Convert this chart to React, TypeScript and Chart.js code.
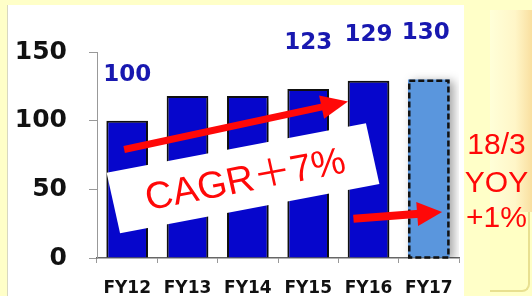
import React, { useEffect, useRef } from "react";
import { Chart, registerables } from "chart.js";

Chart.register(...registerables);

const categories = ["FY12", "FY13", "FY14", "FY15", "FY16", "FY17"];
const sales = [100, 118, 118, 123, 129, 130];
const valueLabels = ["100", "", "", "123", "129", "130"];
const yTickValues = [0, 50, 100, 150];
const cagrText = "CAGR＋7%";
const yoyLines = ["18/3", "YOY", "+1%"];

// annotation anchors in data units: [categoryIndex, value]
const cagrArrow = [[-0.05, 79], [3.66, 114]];
const yoyArrow = [[3.75, 28.5], [5.22, 33.5]];
const cagrBoxCenter = [1.92, 58];
const yoyTextValues = [81.5, 54, 28.5];

const BAR_BLUE = "#0606CC";
const LIGHT_BLUE = "#5A96DD";
const LABEL_BLUE = "#1818B0";
const RED = "#FF0808";

function drawArrow(ctx: CanvasRenderingContext2D, x1: number, y1: number, x2: number, y2: number, lw: number, headLen: number, headHalf: number) {
  const ang = Math.atan2(y2 - y1, x2 - x1);
  const bx = x2 - Math.cos(ang) * headLen;
  const by = y2 - Math.sin(ang) * headLen;
  ctx.save();
  ctx.strokeStyle = RED;
  ctx.fillStyle = RED;
  ctx.lineWidth = lw;
  ctx.lineCap = "butt";
  ctx.beginPath();
  ctx.moveTo(x1, y1);
  ctx.lineTo(bx + Math.cos(ang) * 2, by + Math.sin(ang) * 2);
  ctx.stroke();
  ctx.beginPath();
  ctx.moveTo(x2, y2);
  ctx.lineTo(bx + Math.sin(ang) * headHalf, by - Math.cos(ang) * headHalf);
  ctx.lineTo(bx - Math.sin(ang) * headHalf, by + Math.cos(ang) * headHalf);
  ctx.closePath();
  ctx.fill();
  ctx.restore();
}

const decoPlugin = {
  id: "deco",
  beforeDatasetsDraw(chart: any) {
    const ctx = chart.ctx;
    ctx.save();
    ctx.shadowColor = "rgba(0,0,0,0.35)";
    ctx.shadowBlur = 9;
    ctx.shadowOffsetX = 4;
    ctx.shadowOffsetY = 2;
  },
  afterDatasetsDraw(chart: any) {
    const ctx = chart.ctx;
    ctx.restore();
    // dashed border for last (forecast) bar
    const meta = chart.getDatasetMeta(0);
    const el = meta.data[meta.data.length - 1];
    const p = el.getProps(["x", "y", "base", "width"], true);
    ctx.save();
    ctx.strokeStyle = "#111";
    ctx.lineWidth = 2.5;
    ctx.setLineDash([6, 3]);
    ctx.strokeRect(p.x - p.width / 2 + 1.25, p.y + 1.25, p.width - 2.5, p.base - p.y - 1.25);
    ctx.restore();
  },
  afterDraw(chart: any) {
    const ctx = chart.ctx;
    const xs = chart.scales.x;
    const ys = chart.scales.y;
    const px = (i: number) => xs.getPixelForValue(i);
    const py = (v: number) => ys.getPixelForValue(v);

    // value labels
    const meta = chart.getDatasetMeta(0);
    ctx.save();
    ctx.font = 'bold 23px "DejaVu Sans"';
    ctx.fillStyle = LABEL_BLUE;
    ctx.textAlign = "center";
    ctx.textBaseline = "middle";
    valueLabels.forEach((lab, i) => {
      if (!lab) return;
      const el = meta.data[i];
      ctx.fillText(lab, el.x - (i === meta.data.length - 1 ? 3 : 0), el.y - 46);
    });
    ctx.restore();

    // CAGR arrow
    drawArrow(ctx, px(cagrArrow[0][0]), py(cagrArrow[0][1]), px(cagrArrow[1][0]), py(cagrArrow[1][1]), 7, 27, 12);

    // white box with CAGR text
    const cx = px(cagrBoxCenter[0]);
    const cy = py(cagrBoxCenter[1]);
    ctx.save();
    ctx.translate(cx, cy);
    ctx.rotate((-10.8 * Math.PI) / 180);
    ctx.transform(1, 0, 0.03, 1, 0, 0);
    ctx.fillStyle = "#FFFFFF";
    ctx.fillRect(-132, -31, 264, 62);
    ctx.fillStyle = RED;
    ctx.font = '38px "Liberation Sans", "Noto Sans CJK JP"';
    ctx.textAlign = "center";
    ctx.textBaseline = "middle";
    ctx.fillText(cagrText, 2, 3);
    ctx.restore();

    // YOY arrow
    drawArrow(ctx, px(yoyArrow[0][0]), py(yoyArrow[0][1]), px(yoyArrow[1][0]), py(yoyArrow[1][1]), 8, 25, 12);

    // right side text
    const rx = (chart.chartArea.right + chart.width) / 2 + 1;
    ctx.save();
    ctx.fillStyle = RED;
    ctx.font = '30px "Liberation Sans"';
    ctx.textAlign = "center";
    ctx.textBaseline = "middle";
    yoyLines.forEach((t, i) => ctx.fillText(t, rx, py(yoyTextValues[i])));
    ctx.restore();
  },
};

export default function App() {
  const ref = useRef<HTMLCanvasElement | null>(null);
  useEffect(() => {
    if (!ref.current) return;
    const chart = new Chart(ref.current, {
      type: "bar",
      data: {
        labels: categories,
        datasets: [
          {
            data: sales,
            backgroundColor: sales.map((_, i) => (i === sales.length - 1 ? LIGHT_BLUE : BAR_BLUE)),
            borderColor: "#111111",
            borderWidth: sales.map((_, i) => (i === sales.length - 1 ? 0 : 2)),
            barPercentage: 0.69,
            categoryPercentage: 1,
          },
        ],
      },
      options: {
        responsive: false,
        animation: false,
        events: [],
        layout: { padding: { left: 0, right: 73, top: 52, bottom: 0 } },
        plugins: { legend: { display: false }, tooltip: { enabled: false } },
        scales: {
          x: {
            grid: { display: true, drawOnChartArea: false, drawTicks: true, tickLength: 5, color: "#999", offset: true },
            border: { color: "#666", width: 1.5 },
            ticks: { color: "#111", font: { family: "DejaVu Sans", weight: "bold", size: 17 }, padding: 15 },
            afterFit: (s: any) => { s.height = 38; },
          },
          y: {
            min: 0,
            max: 150,
            afterBuildTicks: (s: any) => { s.ticks = yTickValues.map((v) => ({ value: v })); },
            grid: { display: true, drawOnChartArea: false, drawTicks: true, tickLength: 8, color: "#999" },
            border: { color: "#999", width: 1 },
            ticks: { color: "#111", font: { family: "DejaVu Sans", weight: "bold", size: 25 }, padding: 22 },
            afterFit: (s: any) => { s.width = 97; },
          },
        },
      },
      plugins: [decoPlugin],
    } as any);
    return () => chart.destroy();
  }, []);

  return (
    <div style={{ position: "fixed", left: 0, top: 0, width: 532, height: 296, background: "#FFFFC8", overflow: "hidden" }}>
      <div style={{ position: "absolute", left: 7, top: 5, width: 456, height: 291, background: "#FFFFFF", borderLeft: "1px solid #D8D8C0" }} />
      <div style={{ position: "absolute", left: 490, top: 10, width: 42, height: 202, background: "linear-gradient(to right, #FFFFD8, #FFF6C8 60%, #F9DFA0)" }} />
      <div style={{ position: "absolute", left: 490, top: 212, width: 38, height: 78, background: "#FFFFC4", borderRight: "2px solid #E8E090", borderBottom: "2px solid #E8E090", borderBottomRightRadius: 8 }} />
      <canvas ref={ref} width={532} height={296} style={{ position: "absolute", left: 0, top: 0, display: "block" }} />
    </div>
  );
}
